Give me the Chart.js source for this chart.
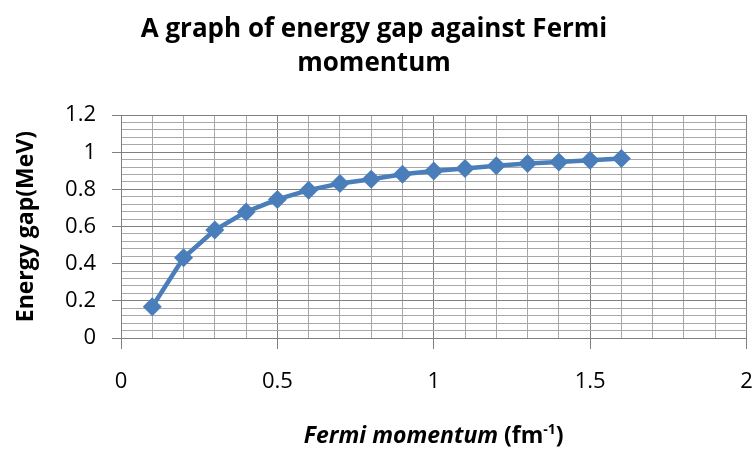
<!doctype html>
<html lang="en">
<head>
  <meta charset="utf-8" />
  <title>Energy gap against Fermi momentum</title>
  <script src="https://cdn.jsdelivr.net/npm/chart.js@4.4.3/dist/chart.umd.min.js"></script>
  <style>
    html, body { margin: 0; padding: 0; background: #fff; }
    #wrap { width: 756px; height: 450px; position: relative; }
  </style>
</head>
<body>
  <div id="wrap"><canvas id="chart"></canvas></div>
  <script>
    // values
    const fermiMomentum = [0.1, 0.2, 0.3, 0.4, 0.5, 0.6, 0.7, 0.8, 0.9, 1.0, 1.1, 1.2, 1.3, 1.4, 1.5, 1.6];
    const energyGap = [0.168, 0.432, 0.581, 0.679, 0.746, 0.796, 0.832, 0.855, 0.882, 0.899, 0.912, 0.928, 0.939, 0.948, 0.957, 0.966];

    const titleLines = ["A graph of energy gap against Fermi", "momentum"];
    const yTitle = "Energy gap(MeV)";
    const xTitleParts = [
      { text: "Fermi momentum", style: "italic bold" },
      { text: " (fm", style: "bold" },
      { text: "-1", style: "bold", sup: true },
      { text: ")", style: "bold" },
    ];

    const FONT = "'Open Sans', 'Liberation Sans', sans-serif";
    const lineColor = "#4a7ebb";
    const majorGrid = "#808080";
    const minorGrid = "#a8a8a8";

    const isMultiple = (v, step) => Math.abs(v / step - Math.round(v / step)) < 1e-6;

    // bottom axis title has mixed styles, so draw it by hand
    const xTitlePlugin = {
      id: "xTitle",
      afterDraw(chart) {
        const ctx = chart.ctx;
        const size = 23;
        const supSize = 14;
        const area = chart.chartArea;
        const cy = 435;
        ctx.save();
        ctx.fillStyle = "#000";
        ctx.textBaseline = "alphabetic";
        let total = 0;
        const widths = xTitleParts.map((p) => {
          ctx.font = `${p.style} ${p.sup ? supSize : size}px ${FONT}`;
          const w = ctx.measureText(p.text).width;
          total += w;
          return w;
        });
        let x = (area.left + area.right) / 2 - total / 2;
        const base = cy + size * 0.36;
        xTitleParts.forEach((p, i) => {
          ctx.font = `${p.style} ${p.sup ? supSize : size}px ${FONT}`;
          ctx.fillText(p.text, x, p.sup ? base - 9 : base);
          x += widths[i];
        });
        ctx.restore();
      },
    };

    new Chart(document.getElementById("chart"), {
      type: "line",
      data: {
        datasets: [{
          label: "Energy gap",
          data: fermiMomentum.map((x, i) => ({ x, y: energyGap[i] })),
          borderColor: lineColor,
          backgroundColor: lineColor,
          borderWidth: 4.5,
          pointStyle: "rectRot",
          pointRadius: 9.5,
          pointBorderWidth: 0,
          pointBackgroundColor: lineColor,
          tension: 0,
        }],
      },
      options: {
        responsive: true,
        maintainAspectRatio: false,
        animation: false,
        layout: { padding: { left: 0, right: 8, top: 0, bottom: 0 } },
        plugins: {
          legend: { display: false },
          tooltip: { enabled: false },
          title: {
            display: true,
            text: titleLines,
            color: "#000",
            font: { family: FONT, size: 26, weight: "bold", lineHeight: 1.31 },
            padding: { top: 13, bottom: 34 },
          },
        },
        scales: {
          x: {
            type: "linear",
            min: 0,
            max: 2,
            ticks: {
              stepSize: 0.1,
              autoSkip: false,
              maxRotation: 0,
              color: "#000",
              padding: 20,
              font: { family: FONT, size: 22 },
              callback: (v) => (isMultiple(v, 0.5) ? String(Math.round(v * 10) / 10) : ""),
            },
            grid: {
              color: (c) => (isMultiple(c.tick.value, 0.5) ? majorGrid : minorGrid),
              tickColor: (c) => (isMultiple(c.tick.value, 0.5) ? majorGrid : "rgba(0,0,0,0)"),
              tickLength: 11,
              lineWidth: 1,
            },
            border: { color: majorGrid, width: 1 },
            afterFit: (scale) => {
              scale.height = 112;
              scale.paddingLeft = 0;
              scale.paddingRight = 0;
            },
          },
          y: {
            type: "linear",
            min: 0,
            max: 1.2,
            ticks: {
              stepSize: 0.04,
              autoSkip: false,
              color: "#000",
              padding: 16,
              font: { family: FONT, size: 22 },
              callback: (v) => (isMultiple(v, 0.2) ? String(Math.round(v * 10) / 10) : ""),
            },
            grid: {
              color: (c) => (isMultiple(c.tick.value, 0.2) ? majorGrid : minorGrid),
              tickColor: (c) => (isMultiple(c.tick.value, 0.2) ? majorGrid : "rgba(0,0,0,0)"),
              tickLength: 9,
              lineWidth: 1,
            },
            border: { color: majorGrid, width: 1 },
            title: {
              display: true,
              text: yTitle,
              color: "#000",
              font: { family: FONT, size: 23, weight: "bold", lineHeight: 1.2 },
              padding: { top: 13, bottom: 0 },
            },
            afterFit: (scale) => {
              scale.width = 121;
              scale.paddingTop = 0;
              scale.paddingBottom = 0;
            },
          },
        },
      },
      plugins: [xTitlePlugin],
    });
  </script>
</body>
</html>
